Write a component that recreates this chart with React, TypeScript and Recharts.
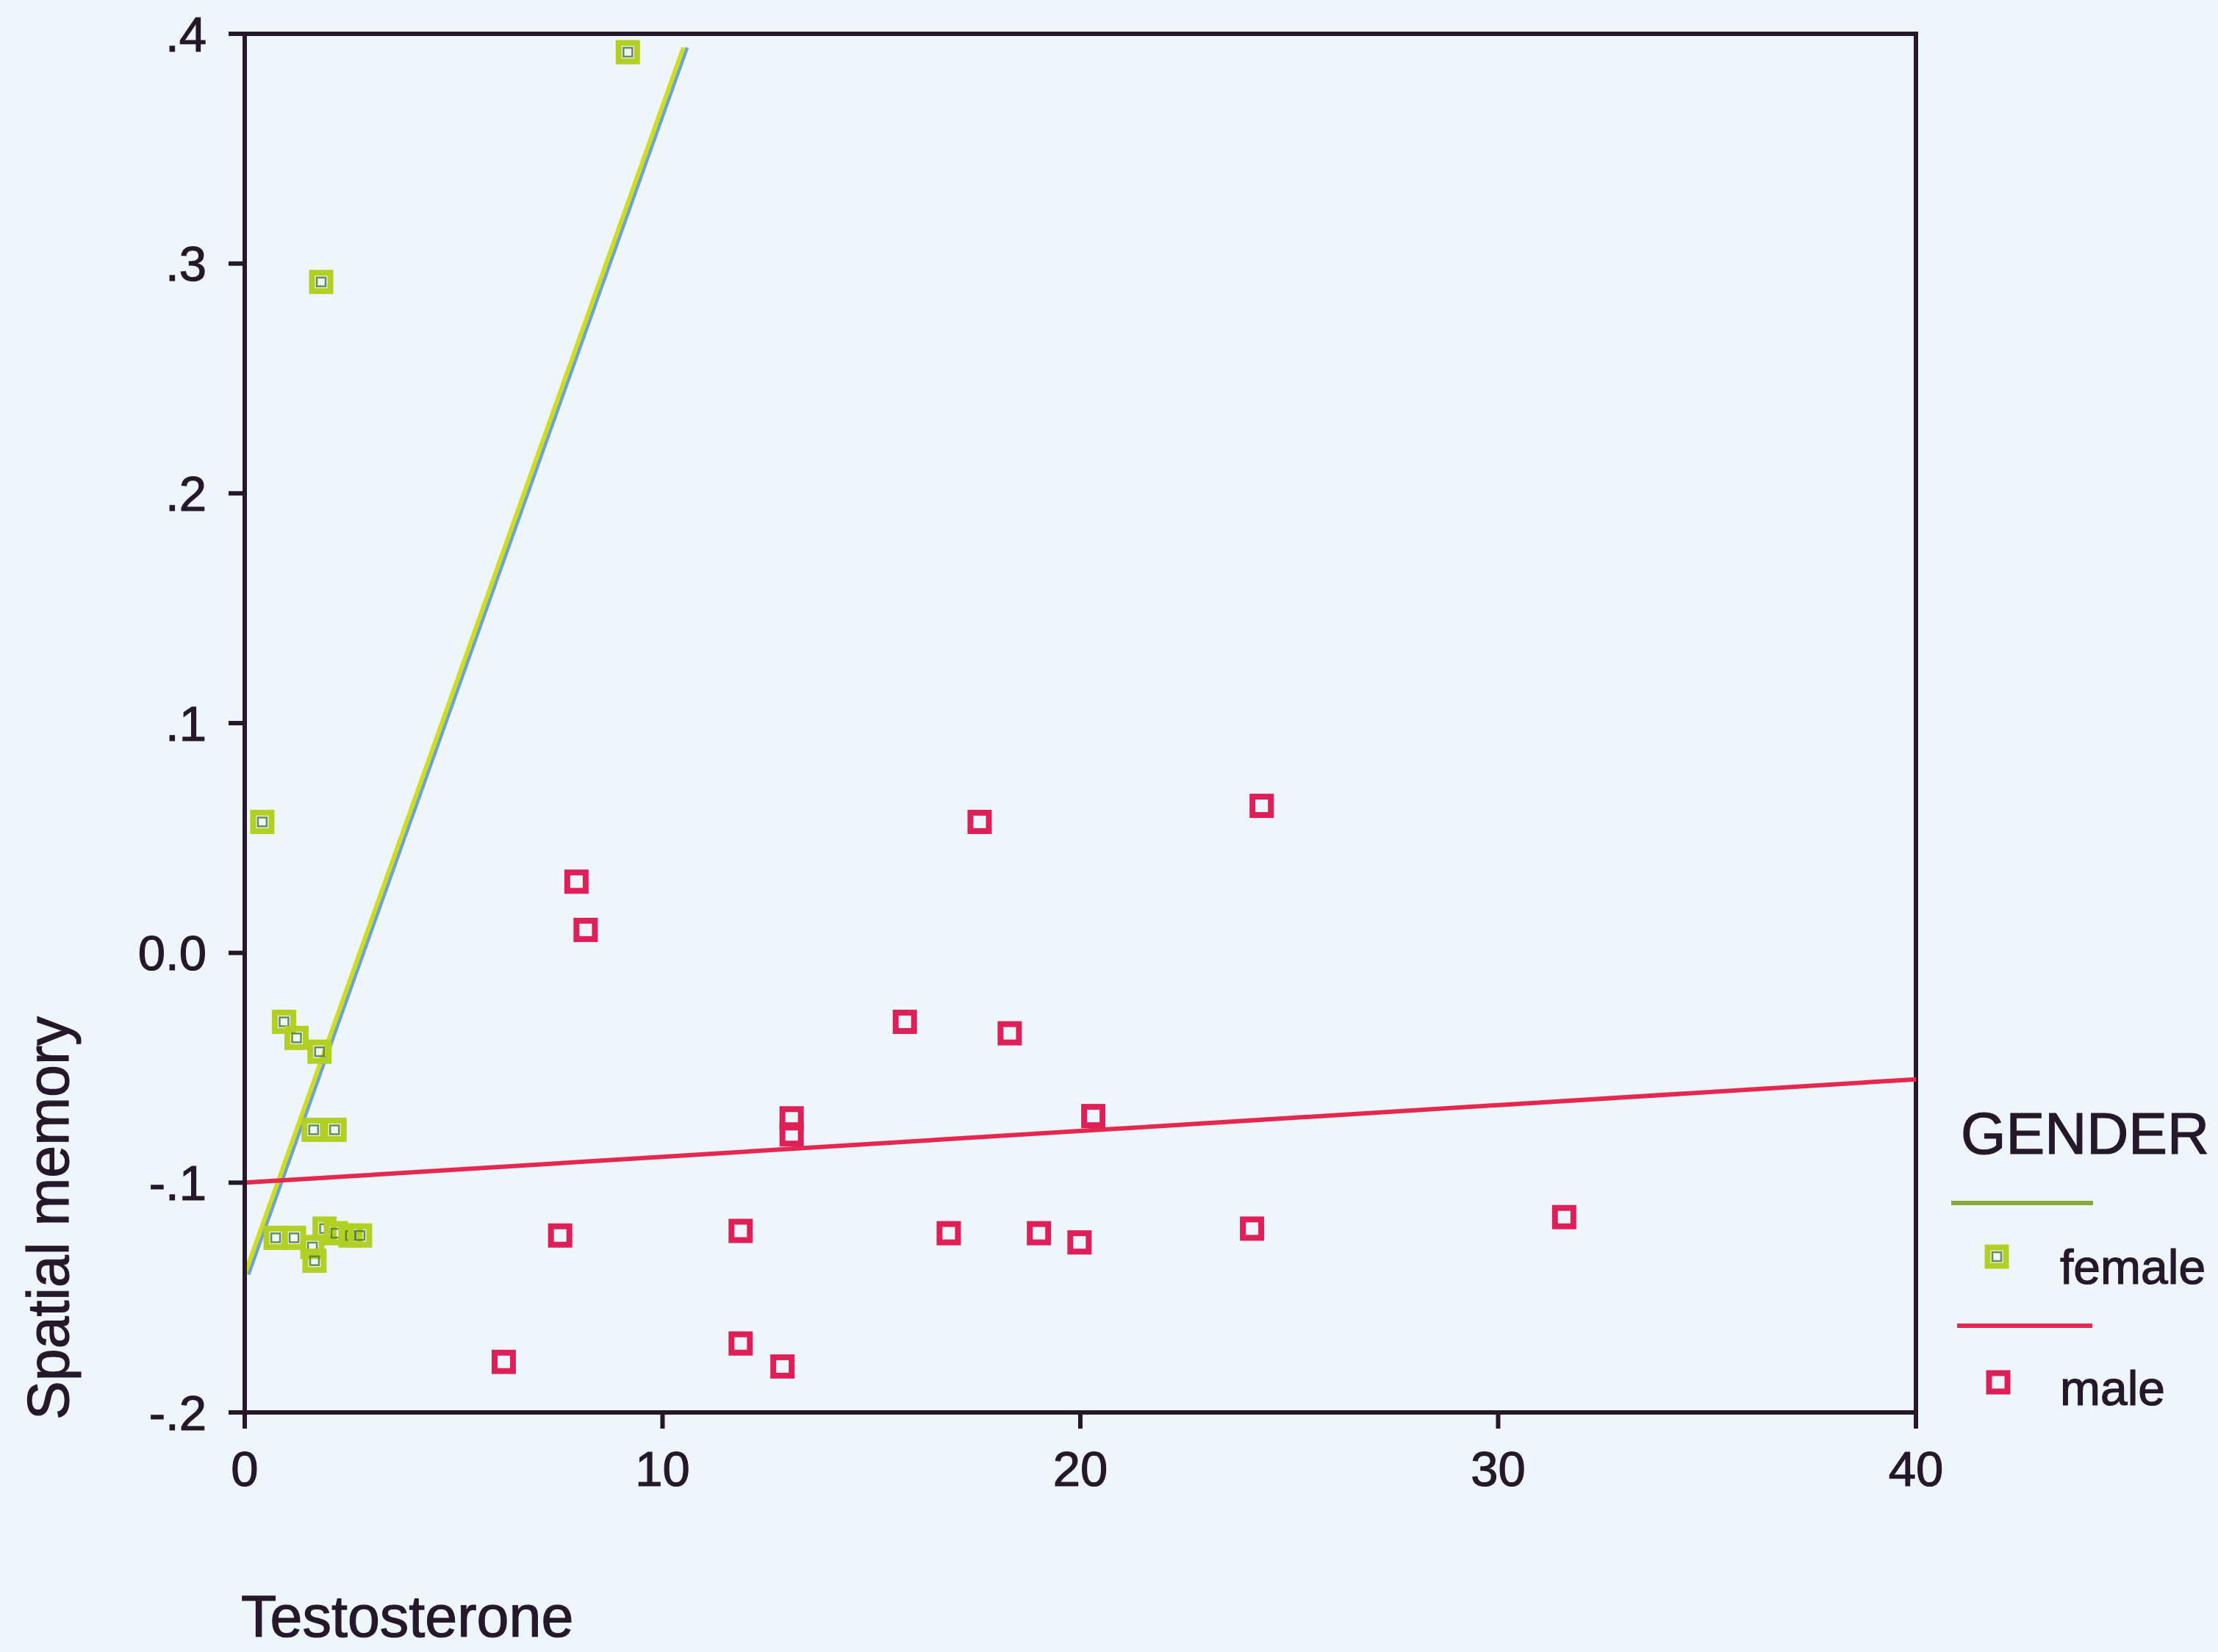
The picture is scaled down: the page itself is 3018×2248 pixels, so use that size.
import React from 'react';
import {
  ScatterChart,
  Scatter,
  XAxis,
  YAxis,
  ReferenceArea,
  ReferenceLine,
  Legend,
} from 'recharts';

// Testosterone vs. spatial memory, split by gender
const femaleTestosterone = [9.17, 1.83, 0.42, 0.94, 1.24, 1.79, 1.65, 2.15, 0.74, 1.18, 1.62, 1.67, 1.91, 2.18, 2.53, 2.76];
const femaleSpatial = [0.392, 0.292, 0.057, -0.03, -0.037, -0.043, -0.077, -0.077, -0.124, -0.124, -0.128, -0.134, -0.12, -0.122, -0.123, -0.123];

const maleTestosterone = [17.59, 24.34, 7.94, 8.16, 15.8, 18.31, 13.09, 13.09, 20.31, 7.55, 11.87, 16.85, 19.01, 19.98, 24.11, 31.58, 6.2, 11.87, 12.87];
const maleSpatial = [0.057, 0.064, 0.031, 0.01, -0.03, -0.035, -0.072, -0.079, -0.071, -0.123, -0.121, -0.122, -0.122, -0.126, -0.12, -0.115, -0.178, -0.17, -0.18];

// linear fit lines (endpoints in data units)
const femaleFitX = [0, 10.5];
const femaleFitY = [-0.14, 0.394];
const maleFitX = [0, 40];
const maleFitY = [-0.1, -0.055];

const xTicks = [0, 10, 20, 30, 40];
const yTicks = [-0.2, -0.1, 0, 0.1, 0.2, 0.3, 0.4];
const yTickLabels = ['-.2', '-.1', '0.0', '.1', '.2', '.3', '.4'];

const legendTitle = 'GENDER';
const groupNames = ['female', 'male'];

const FONT = '"Liberation Sans", Arial, Helvetica, sans-serif';
const INK = '#24182a';
const BG = '#eef5fb';
const AXIS_W = 6;

const COLORS = {
  femaleMarker: '#b2cf24',
  femaleInner: '#4e7c34',
  femaleLine: '#cfdc22',
  femaleLineShadow: '#6aa2dc',
  femaleLegendLine: '#84a83a',
  male: '#df1f58',
  maleLine: '#e52850',
};

const toPoints = (xs: number[], ys: number[]) => xs.map((x, i) => ({ x, y: ys[i] }));

const femaleData = toPoints(femaleTestosterone, femaleSpatial);
const maleData = toPoints(maleTestosterone, maleSpatial);
const femaleFit = toPoints(femaleFitX, femaleFitY);
const maleFit = toPoints(maleFitX, maleFitY);

const MARK = 25;
const MARK_W = 8;

const FemaleSquare = (props: any) => {
  const { cx, cy } = props;
  if (cx == null || cy == null) return null;
  return (
    <g>
      <rect x={cx - MARK / 2} y={cy - MARK / 2} width={MARK} height={MARK} fill="none" stroke={COLORS.femaleMarker} strokeWidth={MARK_W} />
      <rect x={cx - 6} y={cy - 6} width={12} height={12} fill="none" stroke={COLORS.femaleInner} strokeWidth={2.5} opacity={0.85} />
    </g>
  );
};

const MaleSquare = (props: any) => {
  const { cx, cy } = props;
  if (cx == null || cy == null) return null;
  return (
    <rect x={cx - MARK / 2} y={cy - MARK / 2} width={MARK} height={MARK} fill="none" stroke={COLORS.male} strokeWidth={MARK_W} />
  );
};

const FemaleFitShape = (props: any) => {
  const { x1, y1, x2, y2 } = props;
  if ([x1, y1, x2, y2].some((v) => v == null || Number.isNaN(v))) return null;
  return (
    <g>
      <line x1={x1 + 5} y1={y1} x2={x2 + 5} y2={y2} stroke={COLORS.femaleLineShadow} strokeWidth={5} />
      <line x1={x1} y1={y1} x2={x2} y2={y2} stroke={COLORS.femaleLine} strokeWidth={6} />
    </g>
  );
};

const textStyle = { fontFamily: FONT, fill: INK, stroke: INK, strokeWidth: 1.2 };

const renderLegend = () => (
  <svg width={378} height={450} style={{ display: 'block' }}>
    <text x={28} y={80} fontSize={79} {...textStyle}>
      {legendTitle}
    </text>
    <line x1={15} y1={147} x2={208} y2={147} stroke={COLORS.femaleLegendLine} strokeWidth={6} />
    <FemaleSquare cx={77} cy={220} />
    <text x={163} y={257} fontSize={66} {...textStyle}>
      {groupNames[0]}
    </text>
    <line x1={23} y1={314} x2={207} y2={314} stroke={COLORS.maleLine} strokeWidth={6} />
    <MaleSquare cx={79} cy={391} />
    <text x={163} y={422} fontSize={66} {...textStyle}>
      {groupNames[1]}
    </text>
  </svg>
);

const xLabel = (props: any) => {
  const vb = props.viewBox || { x: 333, y: 1922 };
  return (
    <text x={vb.x - 5} y={vb.y + 305} fontSize={79} {...textStyle}>
      Testosterone
    </text>
  );
};

const yLabel = (props: any) => {
  const vb = props.viewBox || { x: 0, y: 46, height: 1876 };
  const x = vb.x + 93;
  const y = vb.y + vb.height + 10;
  return (
    <text x={x} y={y} transform={`rotate(-90, ${x}, ${y})`} fontSize={79} textAnchor="start" {...textStyle}>
      Spatial memory
    </text>
  );
};

const tickStyle = { fontSize: 67, ...textStyle };

export default function App() {
  return (
    <div style={{ position: 'absolute', left: 0, top: 0, width: 3018, height: 2248, background: BG, overflow: 'hidden' }}>
      <ScatterChart width={3018} height={2248} margin={{ top: 46, right: 411, bottom: 0, left: 0 }}>
        <XAxis
          type="number"
          dataKey="x"
          domain={[0, 40]}
          ticks={xTicks}
          interval={0}
          allowDataOverflow
          height={326}
          tickSize={22}
          tickMargin={30}
          tick={tickStyle}
          axisLine={{ stroke: INK, strokeWidth: AXIS_W }}
          tickLine={{ stroke: INK, strokeWidth: AXIS_W }}
          label={xLabel}
        />
        <YAxis
          type="number"
          dataKey="y"
          domain={[-0.2, 0.4]}
          ticks={yTicks}
          interval={0}
          allowDataOverflow
          width={333}
          tickSize={22}
          tickMargin={30}
          tick={tickStyle}
          tickFormatter={(v: number) => yTickLabels[yTicks.findIndex((t) => Math.abs(t - v) < 1e-9)] ?? String(v)}
          axisLine={{ stroke: INK, strokeWidth: AXIS_W }}
          tickLine={{ stroke: INK, strokeWidth: AXIS_W }}
          label={yLabel}
        />
        <ReferenceArea x1={0} x2={40} y1={-0.2} y2={0.4} fill="none" fillOpacity={0} stroke={INK} strokeWidth={AXIS_W} />
        <Scatter name="female" data={femaleData} shape={FemaleSquare} isAnimationActive={false} />
        <Scatter name="male" data={maleData} shape={MaleSquare} isAnimationActive={false} />
        <ReferenceLine segment={femaleFit} shape={FemaleFitShape} ifOverflow="visible" />
        <ReferenceLine segment={maleFit} stroke={COLORS.maleLine} strokeWidth={6} ifOverflow="visible" />
        <Legend
          layout="horizontal"
          verticalAlign="middle"
          align="center"
          content={renderLegend}
          wrapperStyle={{ position: 'absolute', left: 2640, top: 1490, width: 378, height: 450 }}
        />
      </ScatterChart>
    </div>
  );
}
